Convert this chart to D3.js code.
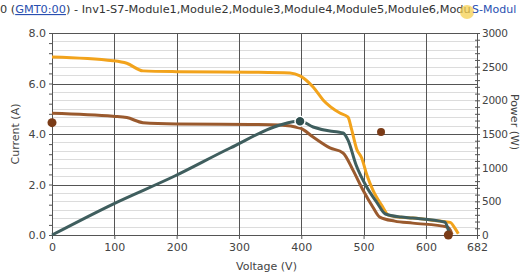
<!DOCTYPE html>
<html>
<head>
<meta charset="utf-8">
<script src="https://cdn.jsdelivr.net/npm/d3@7"></script>
<style>
  body { margin: 0; background: #fff; }
  svg { display: block; font-family: "DejaVu Sans", Verdana, sans-serif; }
</style>
</head>
<body>
<div id="chart"></div>
<script>
// --- data ---
var voltTicks = [0, 100, 200, 300, 400, 500, 600, 682];
var currentTicks = [0, 2, 4, 6, 8];
var powerTicks = [0, 500, 1000, 1500, 2000, 2500, 3000];

// string 1 current (orange)
var orangeV = [0, 98, 120, 146, 200, 318, 382, 398, 419, 435, 462, 475, 481, 489, 497, 505, 515, 531, 539, 560, 579, 622, 639, 647, 652];
var orangeI = [7.05, 6.9, 6.8, 6.5, 6.47, 6.45, 6.42, 6.3, 5.86, 5.35, 4.83, 4.67, 4.16, 3.4, 3.05, 2.4, 1.78, 1.1, 0.8, 0.7, 0.67, 0.55, 0.5, 0.25, 0.05];

// string 2 current (brown)
var brownV = [0, 98, 120, 146, 200, 318, 366, 398, 419, 446, 467, 483, 499, 515, 526, 550, 579, 634, 639, 642];
var brownI = [4.82, 4.7, 4.65, 4.45, 4.4, 4.38, 4.36, 4.24, 3.88, 3.45, 3.25, 2.57, 1.78, 1.1, 0.71, 0.55, 0.47, 0.32, 0.2, 0.02];

// power (slate)
var powerV = [0, 98, 197, 286, 366, 398, 419, 446, 459, 467, 475, 488, 505, 522, 535, 560, 579, 630, 635, 638];
var powerW = [0, 460, 876, 1292, 1634, 1693, 1604, 1544, 1530, 1515, 1410, 1040, 713, 475, 312, 267, 252, 193, 104, 5];

// markers
var refCurrentPts = [[0, 4.45], [636, 0]];
var refPowerPts = [[528, 1530]];
var mppPts = [[398, 1690]];

// --- layout ---
var W = 522, H = 276,
    plotL = 52, plotR = 477, plotT = 33, plotB = 235;

var svg = d3.select('#chart').append('svg')
  .attr('width', W)
  .attr('height', H);

var x = d3.scaleLinear().domain([0, 682]).range([plotL, plotR]);
var yI = d3.scaleLinear().domain([0, 8]).range([plotB, plotT]);
var yP = d3.scaleLinear().domain([0, 3000]).range([plotB, plotT]);

// title
var title = svg.append('text')
  .attr('x', 0).attr('y', 13)
  .attr('font-size', 11.3)
  .attr('fill', '#333');
title.append('tspan').text('0 (');
title.append('tspan').text('GMT0:00').attr('fill', '#2a4fb0').attr('text-decoration', 'underline');
title.append('tspan').text(') - Inv1-S7-Module1,Module2,Module3,Module4,Module5,Module6,Modu');
svg.append('circle')
  .attr('cx', 467).attr('cy', 12).attr('r', 7)
  .attr('fill', '#f5d050').attr('opacity', 0.75);
svg.append('text')
  .attr('x', 472).attr('y', 13)
  .attr('font-size', 11)
  .attr('fill', '#2a4fb0')
  .text('S-Modul');

// minor horizontal grid
var g = svg.append('g');
g.selectAll('line.minor')
  .data(d3.range(0, 25).map(function (k) { return k / 3; }).filter(function (v) { return Math.abs(v - Math.round(v / 2) * 2) > 0.01; }))
  .enter().append('line')
  .attr('x1', plotL).attr('x2', plotR)
  .attr('y1', function (d) { return Math.round(yI(d)) + 0.5; })
  .attr('y2', function (d) { return Math.round(yI(d)) + 0.5; })
  .attr('stroke', '#dcdcdc');

// major grid
g.selectAll('line.hmaj')
  .data(currentTicks)
  .enter().append('line')
  .attr('x1', plotL).attr('x2', plotR)
  .attr('y1', function (d) { return Math.round(yI(d)) + 0.5; })
  .attr('y2', function (d) { return Math.round(yI(d)) + 0.5; })
  .attr('stroke', '#555');
g.selectAll('line.vmaj')
  .data(voltTicks.slice(1, -1))
  .enter().append('line')
  .attr('y1', plotT).attr('y2', plotB)
  .attr('x1', function (d) { return Math.round(x(d)) + 0.5; })
  .attr('x2', function (d) { return Math.round(x(d)) + 0.5; })
  .attr('stroke', '#555');

// axes
var fmt = d3.format('.1f');
var axL = svg.append('g').attr('transform', 'translate(' + plotL + ',0)')
  .call(d3.axisLeft(yI).tickValues(d3.range(0, 8.01, 0.4)).tickSize(3)
    .tickFormat(function (d) { return currentTicks.some(function (t) { return Math.abs(t - d) < 0.01; }) ? fmt(d) : ''; }));
var axR = svg.append('g').attr('transform', 'translate(' + plotR + ',0)')
  .call(d3.axisRight(yP).tickValues(d3.range(0, 3001, 100)).tickSize(3)
    .tickFormat(function (d) { return powerTicks.indexOf(d) >= 0 ? d : ''; }));
var axB = svg.append('g').attr('transform', 'translate(0,' + plotB + ')')
  .call(d3.axisBottom(x).tickValues(voltTicks).tickSize(4));
axR.selectAll('.tick line').attr('x1', -2);

[axL, axR, axB].forEach(function (a) {
  a.select('.domain').attr('stroke', '#555');
  a.selectAll('.tick line').attr('stroke', '#555');
  a.selectAll('text')
    .attr('font-family', '"DejaVu Sans", Verdana, sans-serif')
    .attr('font-size', 11)
    .attr('fill', '#444');
});
axR.selectAll('text').attr('x', 5).attr('font-size', 10.5).attr('letter-spacing', -0.3);
axB.selectAll('text').attr('dy', '0.85em');

// axis titles
svg.append('text')
  .attr('transform', 'translate(19,' + ((plotT + plotB) / 2) + ') rotate(-90)')
  .attr('text-anchor', 'middle')
  .attr('font-size', 11).attr('fill', '#444')
  .text('Current (A)');
svg.append('text')
  .attr('transform', 'translate(511,122) rotate(90)')
  .attr('text-anchor', 'middle')
  .attr('font-size', 11).attr('fill', '#444')
  .text('Power (W)');
svg.append('text')
  .attr('x', (plotL + plotR) / 2 + 2).attr('y', 270)
  .attr('text-anchor', 'middle')
  .attr('font-size', 11).attr('fill', '#444')
  .text('Voltage (V)');

// curves
function mkLine(vs, ys, yScale) {
  return d3.line()
    .x(function (d, i) { return x(vs[i]); })
    .y(function (d, i) { return yScale(ys[i]); })
    .curve(d3.curveMonotoneX)(ys);
}

svg.append('path')
  .attr('d', mkLine(orangeV, orangeI, yI))
  .attr('fill', 'none').attr('stroke', '#f2a31c').attr('stroke-width', 3)
  .attr('stroke-linejoin', 'round');
svg.append('path')
  .attr('d', mkLine(brownV, brownI, yI))
  .attr('fill', 'none').attr('stroke', '#9a5a2e').attr('stroke-width', 3)
  .attr('stroke-linejoin', 'round');
svg.append('path')
  .attr('d', mkLine(powerV, powerW, yP))
  .attr('fill', 'none').attr('stroke', '#3f5e5e').attr('stroke-width', 3)
  .attr('stroke-linejoin', 'round');

// markers
svg.selectAll('circle.refI')
  .data(refCurrentPts)
  .enter().append('circle')
  .attr('cx', function (d) { return x(d[0]); })
  .attr('cy', function (d) { return yI(d[1]); })
  .attr('r', 4.5)
  .attr('fill', '#7a3b17');
svg.selectAll('circle.refP')
  .data(refPowerPts)
  .enter().append('circle')
  .attr('cx', function (d) { return x(d[0]); })
  .attr('cy', function (d) { return yP(d[1]); })
  .attr('r', 4)
  .attr('fill', '#7a3b17');
svg.selectAll('circle.mpp')
  .data(mppPts)
  .enter().append('circle')
  .attr('cx', function (d) { return x(d[0]); })
  .attr('cy', function (d) { return yP(d[1]); })
  .attr('r', 5)
  .attr('fill', '#2f4f4f')
  .attr('stroke', '#fff').attr('stroke-width', 1.5);
</script>
</body>
</html>
